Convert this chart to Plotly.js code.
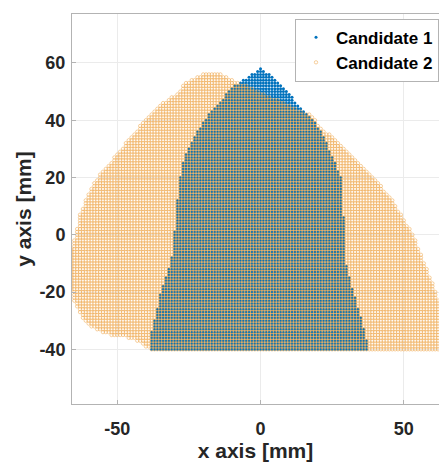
<!DOCTYPE html>
<html><head><meta charset="utf-8">
<script src="https://cdn.plot.ly/plotly-3.0.1.min.js"></script>
<style>body{margin:0;background:#fff}#p{width:439px;height:462px}</style></head>
<body><div id="p"></div>
<script>
// Candidate 1: per-row x extent (mm) of the 1 mm point grid, rows y = -40 .. 58
const c1YStart = -40;
const c1XMin = [-38,-38,-38,-38,-38,-38,-38,-37,-37,-37,-37,-36,-36,-36,-36,-35,-35,-35,-35,-35,
  -34,-34,-34,-33,-33,-33,-32,-32,-32,-31,-31,-31,-31,
  -30,-30,-30,-30,-30,-30,-30,-30,-30,
  -29,-29,-29,-29,-29,-29,-29,-29,-29,-29,-29,
  -28,-28,-28,-28,-28,-28,-28,-28,
  -27,-27,-27,-27,-27,-26,-26,-26,-25,-25,-24,-24,-23,-23,-22,-22,-21,-20,-20,-19,-18,-18,-17,-16,-15,-14,-13,-12,-12,-11,-10,-9,-7,-6,-4,-3,-1,0];
const c1XMax = [37,37,37,37,36,36,36,36,35,35,35,35,34,34,34,33,33,33,33,32,32,32,31,31,31,31,30,30,30,30,
  29,29,29,29,29,29,29,29,29,29,29,29,29,29,29,29,29,
  28,28,28,28,28,28,28,28,28,28,28,28,28,28,
  27,27,26,26,26,25,25,24,24,23,23,23,22,22,21,21,20,19,19,18,17,16,15,14,13,12,11,11,10,9,8,7,6,5,4,3,1,0];

// Candidate 2: per-row x extent (mm), rows y = -40 .. 56
const c2YStart = -40;
const c2XMin = [-38,-40,-41,-43,-46,-52,-55,-57,-59,-60,-61,-62,-62,-63,-63,-64,-64,-65,-65,-65,-65,
  -66,-66,-66,-66,-66,-66,-66,-66,-66,-66,-66,-66,-66,-66,-66,
  -65,-65,-65,-64,-64,-64,-64,-63,-63,-63,-63,-63,-62,-62,-61,-61,-61,-60,-60,-59,-59,-58,-58,-57,
  -56,-56,-55,-54,-53,-52,-51,-51,-50,-49,-48,-47,-47,-46,-45,-44,-43,-42,-42,-41,-40,-39,-38,-37,-36,-35,-34,-32,-31,-29,-28,-27,-27,-26,-24,-22,-20];
const c2XMax = [63,63,63,63,63,63,63,63,63,63,63,63,63,63,63,63,63,63,
  61,61,61,60,60,60,59,59,58,58,58,57,57,56,56,56,55,55,54,54,54,53,53,52,52,51,50,50,49,49,48,47,47,46,46,45,44,43,42,42,41,40,
  39,38,37,36,35,34,33,32,31,30,29,28,27,26,25,24,22,21,20,19,19,18,17,14,12,10,8,6,3,1,-1,-3,-5,-8,-10,-12,-14];

const names = ['Candidate 1', 'Candidate 2'];
const xTicks = [-50, 0, 50];
const yTicks = [-40, -20, 0, 20, 40, 60];

function gridPoints(y0, mins, maxs) {
  const xs = [], ys = [];
  for (let i = 0; i < mins.length; i++) {
    for (let x = mins[i]; x <= maxs[i]; x++) { xs.push(x); ys.push(y0 + i); }
  }
  return {xs, ys};
}
const g1 = gridPoints(c1YStart, c1XMin, c1XMax);
const g2 = gridPoints(c2YStart, c2XMin, c2XMax);

const F = 'Liberation Sans, Arial, sans-serif';
const txt = '#262626';
const axCol = '#B3B3B3';

const traces = [
  {x: g1.xs, y: g1.ys, type: 'scatter', mode: 'markers', name: names[0],
   marker: {color: '#0072BD', size: 3, symbol: 'circle', line: {width: 0}}},
  {x: g2.xs, y: g2.ys, type: 'scatter', mode: 'markers', name: names[1],
   marker: {color: '#EDA040', size: 3.4, symbol: 'circle-open', line: {width: 0.5, color: '#EDA040'}}}
];

const axisCommon = {
  showgrid: true, gridcolor: '#EBEBEB', gridwidth: 1, zeroline: false,
  showline: true, linecolor: axCol, linewidth: 1, mirror: true,
  ticks: 'inside', ticklen: 4, tickcolor: axCol,
  tickfont: {family: F, size: 18, weight: 700, color: txt}
};

const layout = {
  width: 439, height: 462,
  margin: {l: 72, r: 0, t: 14, b: 58, pad: 0},
  paper_bgcolor: '#fff', plot_bgcolor: '#fff',
  showlegend: true,
  legend: {x: 1, xanchor: 'right', y: 0.988, yanchor: 'top',
    bgcolor: '#fff', bordercolor: axCol, borderwidth: 1,
    font: {family: F, size: 17, weight: 700, color: '#000'},
    tracegroupgap: 0, itemwidth: 30},
  xaxis: Object.assign({}, axisCommon, {
    range: [-65.8, 62.3], tickvals: xTicks, ticktext: xTicks.map(String),
    ticklabelstandoff: 8,
    title: {text: 'x axis [mm]', font: {family: F, size: 21, weight: 700, color: txt}, standoff: 6}
  }),
  yaxis: Object.assign({}, axisCommon, {
    range: [-59.1, 77.1], tickvals: yTicks, ticktext: yTicks.map(String),
    ticklabelstandoff: 2,
    title: {text: 'y axis [mm]', font: {family: F, size: 21, weight: 700, color: txt}, standoff: 2}
  })
};

Plotly.newPlot('p', traces, layout, {displayModeBar: false, staticPlot: true});
</script>
</body></html>
